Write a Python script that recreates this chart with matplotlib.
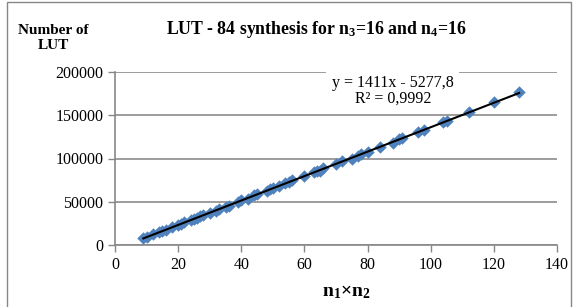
import matplotlib
matplotlib.use("Agg")
import matplotlib.pyplot as plt
import numpy as np
from matplotlib.patches import Rectangle

plt.rcParams['font.family'] = ['Liberation Serif', 'DejaVu Serif']
plt.rcParams['mathtext.fontset'] = 'custom'
plt.rcParams['mathtext.rm'] = 'Liberation Serif'
plt.rcParams['mathtext.it'] = 'Liberation Serif:italic'
plt.rcParams['mathtext.bf'] = 'Liberation Serif:bold'
plt.rcParams['mathtext.default'] = 'bf'

# data: n1*n2 vs number of LUT
x_vals = [9, 10, 12, 14, 15, 16, 18, 20, 21, 22, 24, 25, 26, 27, 28, 30, 32, 33,
          35, 36, 39, 40, 42, 44, 45, 48, 49, 50, 52, 54, 55, 56, 60, 63, 64, 65,
          66, 70, 72, 75, 77, 78, 80, 84, 88, 90, 91, 96, 98, 104, 105, 112, 120, 128]
y_vals = [8200, 9600, 12300, 14800, 16500, 17600, 20800, 23400, 24200, 26100,
          28900, 30400, 31000, 33100, 34300, 37400, 39500, 41800, 44100, 45600,
          49600, 51800, 53700, 57600, 58900, 62200, 64800, 65800, 67900, 71400,
          72300, 74600, 79400, 83900, 85200, 86100, 88600, 93400, 96800, 99600,
          102700, 104900, 107400, 113100, 118300, 122400, 123500, 130200, 132900,
          141900, 143200, 153800, 165700, 176900]
x_ticks = [0, 20, 40, 60, 80, 100, 120, 140]
y_ticks = [0, 50000, 100000, 150000, 200000]
eq_text = "y = 1411x - 5277,8\nR² = 0,9992"

W, H = 581, 307
fig = plt.figure(figsize=(W / 100, H / 100), dpi=100)
fig.patch.set_facecolor('white')

# chart area border
fig.patches.append(Rectangle((7 / W, -0.05), (571 - 7) / W, 1 - 2 / H + 0.05,
                             transform=fig.transFigure, fill=False,
                             edgecolor='#878787', linewidth=1.0))

ax = fig.add_axes([115 / W, 1 - 245 / H, (557 - 115) / W, (245 - 72) / H])
ax.set_xlim(0, 140)
ax.set_ylim(0, 200000)
ax.set_xticks(x_ticks)
ax.set_yticks(y_ticks)
ax.tick_params(labelsize=11.5, direction='out', length=5, color='#878787', width=1)
ax.grid(axis='y', color='#8c8c8c', linewidth=1.2)
ax.set_axisbelow(True)
for s in ['top', 'right']:
    ax.spines[s].set_visible(False)
for s in ['left', 'bottom']:
    ax.spines[s].set_color('#878787')
    ax.spines[s].set_linewidth(1.2)

ax.scatter(x_vals, y_vals, marker='D', s=40, color='#4F81BD', zorder=3, linewidths=0)

coef = np.polyfit(x_vals, y_vals, 1)
xl = np.array([min(x_vals), max(x_vals)])
ax.plot(xl, np.polyval(coef, xl), color='black', linewidth=1.5, zorder=4)

ax.text(88, 178000, eq_text, ha='center', va='center', fontsize=11.5,
        linespacing=0.95, zorder=2,
        bbox=dict(facecolor='white', edgecolor='none', pad=4))

fig.text(316 / W, 1 - 30 / H, r"LUT - 84 synthesis for $n_3$=16 and $n_4$=16",
         ha='center', va='center', fontsize=12.8, fontweight='bold')
fig.text(53 / W, 1 - 38 / H, "Number of\nLUT", ha='center', va='center',
         fontsize=11, fontweight='bold', linespacing=1.15)
fig.text(346 / W, 1 - 292 / H, r"$n_1$×$n_2$", ha='center', va='center',
         fontsize=14, fontweight='bold')

fig.savefig('out.png', dpi=100)
